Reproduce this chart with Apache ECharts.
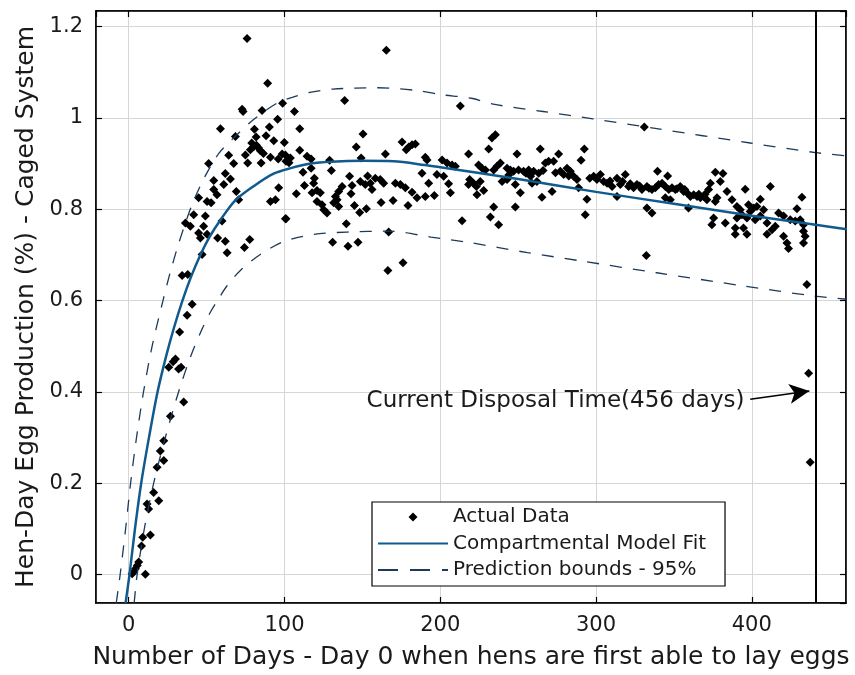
<!DOCTYPE html>
<html lang="en">
<head>
  <meta charset="UTF-8">
  <title>Hen-Day Egg Production - Caged System</title>
  <script src="https://cdn.jsdelivr.net/npm/echarts/dist/echarts.min.js"></script>
  <style>
    html, body { margin: 0; padding: 0; background: #fff; }
    #chart { width: 855px; height: 675px; }
  </style>
</head>
<body>
<div id="chart"></div>
<script>
  // observed production, [day, rate]
  const riseData = [
    [40.7,0.592],[37.5,0.568],[32.7,0.531],[30,0.472],[28.5,0.466],[32,0.45],[33.6,0.454],[25.7,0.454],
    [35.3,0.378],[26.8,0.347],[22.5,0.293],[20.3,0.271],[22.5,0.25],[18.2,0.235],[16,0.18],[19.3,0.162],
    [11.8,0.155],[12.8,0.144],[13.9,0.087],[9,0.082],[8.2,0.063],[6.4,0.028],[4.3,0.013],[2.2,0.002],
    [10.7,0.001],[3.2,0.006],[5.5,0.02]
  ];
  const peakData = [
    [76,1.174],[89.2,1.076],[72.8,1.019],[73.4,1.014],[85.6,1.016],[98.8,1.032],[95.6,0.997],[58.9,0.976],
    [80.7,0.975],[90.3,0.98],[68.5,0.959],[81.8,0.958],[88.2,0.961],[93.1,0.95],[99.9,0.946],[80.2,0.937],
    [83.4,0.934],[78.1,0.93],[64.2,0.918],[74.9,0.919],[91,0.914],[98.5,0.921],[67.4,0.9],[76.4,0.901],
    [85,0.901],[51.3,0.9],[62,0.878],[54.6,0.863],[65.3,0.866],[61,0.854],[54.6,0.843],[56.7,0.832],
    [69.1,0.839],[96.3,0.847],[44.9,0.825],[50.3,0.817],[52.9,0.814],[70.6,0.821],[91,0.817],[94.2,0.821],
    [41.7,0.788],[49.2,0.785],[36.4,0.77],[39.6,0.763],[48.1,0.763],[59.9,0.774],[101,0.779],[44.9,0.748],
    [46,0.737],[50.3,0.745],[57.1,0.737],[62,0.73],[77.7,0.734],[63.2,0.705],[74.3,0.716],[47.1,0.701],
    [34.3,0.655],[37.9,0.657],[79,0.945],[82,0.94],[84.5,0.928],[86.5,0.922],[96,0.91],[101,0.905]
  ];
  const midData = [
    [165.4,1.148],[138.6,1.038],[106.4,1.014],[212.9,1.026],[109.8,0.976],[150.4,0.965],[146.1,0.936],
    [175.5,0.947],[179.8,0.936],[181.9,0.941],[184,0.943],[178.2,0.93],[109.8,0.929],[100.6,0.919],
    [103.8,0.912],[102.9,0.902],[114.5,0.916],[117.1,0.91],[149.2,0.912],[164.8,0.921],[190.4,0.914],
    [191.5,0.908],[201.2,0.908],[204.4,0.901],[207.6,0.897],[209.7,0.894],[218.2,0.921],[129,0.907],
    [130.1,0.885],[111.9,0.881],[117.1,0.89],[119.2,0.868],[141.8,0.872],[153.4,0.873],[188.3,0.879],
    [192.6,0.857],[197.9,0.876],[202.2,0.872],[205.4,0.856],[206.5,0.836],[112.8,0.852],[118.7,0.857],
    [137,0.85],[134.8,0.839],[132.7,0.828],[143.4,0.852],[148.7,0.861],[151.9,0.854],[155.1,0.857],
    [158.3,0.868],[161.5,0.865],[163.7,0.857],[156.2,0.843],[171.2,0.857],[174.4,0.854],[177.6,0.847],
    [181.9,0.837],[185.1,0.825],[190.4,0.828],[196.2,0.83],[107.6,0.834],[117.7,0.836],[120.9,0.841],
    [123,0.836],[120.9,0.817],[124.1,0.81],[125.2,0.799],[127.3,0.792],[131.6,0.814],[133.8,0.821],
    [134.8,0.806],[142.7,0.834],[144.9,0.808],[148.3,0.793],[152.6,0.801],[162,0.815],[169.7,0.819],
    [179.3,0.808],[100.6,0.779],[139.7,0.768],[214,0.775],[130.9,0.728],[140.8,0.719],[147.2,0.728],
    [166.9,0.75],[166.4,0.666],[176.1,0.683]
  ];
  const plateauData = [
    [331,0.98],[233.2,0.956],[235.4,0.963],[231.1,0.932],[249.3,0.921],[264.2,0.932],[276,0.921],
    [292.5,0.932],[290.4,0.907],[238.6,0.901],[224.6,0.897],[226.8,0.89],[229,0.886],[234.3,0.886],
    [236.4,0.894],[242.9,0.89],[245,0.886],[247.1,0.883],[250.3,0.886],[253.5,0.883],[256.8,0.886],
    [260,0.883],[263.2,0.879],[267.5,0.901],[269.6,0.905],[272.8,0.905],[277.1,0.883],[279.2,0.876],
    [281.4,0.89],[283.5,0.883],[285.6,0.872],[287.8,0.865],[218.9,0.865],[221.4,0.857],[223.2,0.85],
    [225.7,0.861],[218.2,0.854],[223.6,0.832],[227.9,0.841],[239.7,0.861],[242.9,0.865],[248.2,0.854],
    [251.4,0.836],[258.9,0.857],[262.1,0.861],[265.3,0.826],[271.8,0.839],[298.5,0.872],[300.6,0.865],
    [302.8,0.876],[304.9,0.861],[307.1,0.857],[310.3,0.85],[313.5,0.868],[315.6,0.854],[318.8,0.876],
    [320.9,0.85],[324.1,0.847],[326.3,0.854],[329.5,0.843],[332.7,0.85],[339.5,0.883],[288.8,0.847],
    [294.2,0.822],[293.1,0.788],[234.3,0.805],[248.2,0.805],[232.2,0.783],[237.5,0.766],[332.7,0.803],
    [335.9,0.792],[313.5,0.828],[332.3,0.699],[244,0.875],[255,0.879],[258,0.872],[266,0.885],[274,0.88],
    [282.5,0.873],[296,0.868],[309,0.862],[317,0.861],[322,0.856],[328,0.851],[334,0.846]
  ];
  const lateData = [
    [346,0.873],[335.9,0.843],[338.1,0.847],[340.2,0.854],[342.4,0.857],[344.5,0.85],[346.7,0.843],
    [348.8,0.847],[350.9,0.843],[354.1,0.85],[356.3,0.839],[358.4,0.836],[360.6,0.828],[362.7,0.832],
    [364.9,0.828],[367,0.825],[369.2,0.828],[371.2,0.821],[344.5,0.825],[347.7,0.821],[359.4,0.803],
    [376.6,0.881],[381.5,0.878],[379.8,0.861],[373.4,0.857],[372.3,0.843],[384.1,0.839],[377.7,0.825],
    [376.6,0.817],[387.3,0.821],[390.5,0.806],[392.6,0.799],[395.8,0.844],[411.9,0.85],[405.5,0.822],
    [432.2,0.826],[429,0.801],[397.9,0.81],[401.2,0.803],[403.3,0.806],[407.6,0.799],[399,0.795],
    [375.5,0.781],[374.4,0.766],[383,0.77],[390.5,0.781],[393.7,0.788],[396.9,0.781],[389.4,0.759],
    [394.7,0.759],[396.9,0.745],[389.4,0.745],[402.2,0.777],[405.5,0.785],[409.8,0.77],[409.8,0.745],
    [413,0.755],[415.1,0.763],[417.2,0.792],[420.4,0.785],[424.7,0.777],[427.9,0.774],[431.1,0.777],
    [433.2,0.766],[420.4,0.741],[422.6,0.726],[423.6,0.714],[433.2,0.752],[434.3,0.741],[433.2,0.726],
    [435.4,0.635],[436.5,0.441],[437.5,0.246],[352,0.845],[357,0.843],[366,0.833],[370,0.833]
  ];

  // model fit and 95% bounds, [day, rate]
  const fitCurve = [
    [-2,-0.062],[0.5,0],[4,0.1],[8,0.2],[13,0.3],[18.5,0.4],[24,0.478],[29,0.54],[34.5,0.6],[40,0.652],
    [46,0.7],[52,0.74],[59,0.777],[68,0.818],[80,0.85],[93,0.878],[104,0.89],[117,0.9],[130,0.904],
    [150,0.906],[170,0.905],[190,0.897],[200,0.892],[250,0.866],[300,0.838],[350,0.812],[400,0.786],
    [441,0.766],[461,0.756]
  ];
  const upperBound = [
    [-8,-0.062],[-5.5,0],[-2,0.1],[1.2,0.2],[5,0.3],[9.5,0.4],[15,0.5],[22,0.6],[26.5,0.66],[31,0.713],
    [36,0.766],[41.5,0.817],[49,0.872],[58,0.923],[69.5,0.963],[80,0.996],[95,1.032],[105,1.045],
    [115,1.055],[131,1.063],[160,1.066],[185,1.06],[200,1.051],[220,1.043],[234,1.03],[266,1.014],
    [298,0.998],[338,0.977],[399,0.945],[441,0.924],[461,0.917]
  ];
  const lowerBound = [
    [3.5,-0.062],[5.4,0],[10,0.1],[16,0.2],[23.5,0.3],[32,0.4],[40,0.48],[47,0.537],[52.5,0.575],
    [57,0.6],[63,0.632],[72,0.667],[84,0.7],[100,0.73],[119,0.745],[140,0.75],[168,0.752],[194,0.739],
    [219,0.727],[256,0.705],[292,0.686],[339,0.661],[395,0.632],[440,0.61],[461,0.603]
  ];

  const disposalDay = 441;
  const noteAnchor = [396, 0.38];
  const arrowFrom = [399, 0.384];
  const arrowTo = [437, 0.402];

  const actualData = riseData.concat(peakData, midData, plateauData, lateData);

  const FONT = 'DejaVu Sans';
  const TXT = '#1a1a1a';
  const fitColor = '#105a8e';
  const boundColor = '#1d3a58';
  const boundDash = [12, 11];
  // small diamond centred in a 70x9 legend slot
  const diamondIcon = 'path://M0,4.5L0.01,4.5Z M30.5,4.5L35,0L39.5,4.5L35,9Z M69.99,4.5L70,4.5Z';

  const chart = echarts.init(document.getElementById('chart'));

  const commonX = { type: 'value', min: -21, max: 460.5, splitNumber: 5 };
  const commonY = { type: 'value', min: -0.062, max: 1.234, splitNumber: 6 };
  const frameLine = { show: true, onZero: false, lineStyle: { color: '#000', width: 1.5 } };
  const innerTick = { show: true, inside: true, length: 6, lineStyle: { color: '#000', width: 1.2 } };

  chart.setOption({
    animation: false,
    backgroundColor: '#fff',
    textStyle: { fontFamily: FONT },
    grid: {
      left: 96, right: 9, top: 11, bottom: 71,
      show: true, borderColor: '#000', borderWidth: 1.5, backgroundColor: 'transparent'
    },
    xAxis: [
      Object.assign({}, commonX, {
        position: 'bottom',
        name: 'Number of Days - Day 0 when hens are first able to lay eggs',
        nameLocation: 'middle', nameGap: 42,
        nameTextStyle: { fontSize: 25, color: TXT, fontFamily: FONT },
        axisLine: frameLine,
        axisTick: innerTick,
        axisLabel: { fontSize: 21, color: TXT, margin: 12, showMinLabel: false, showMaxLabel: false },
        splitLine: { show: true, lineStyle: { color: '#d6d6d6', width: 1 } }
      }),
      Object.assign({}, commonX, {
        position: 'top',
        axisLine: frameLine,
        axisTick: innerTick,
        axisLabel: { show: false },
        splitLine: { show: false }
      })
    ],
    yAxis: [
      Object.assign({}, commonY, {
        position: 'left',
        name: 'Hen-Day Egg Production (%) - Caged System',
        nameLocation: 'middle', nameGap: 55, nameRotate: 90,
        nameTextStyle: { fontSize: 25, color: TXT, fontFamily: FONT },
        axisLine: frameLine,
        axisTick: innerTick,
        axisLabel: { fontSize: 21, color: TXT, margin: 13, showMinLabel: false, showMaxLabel: false },
        splitLine: { show: true, lineStyle: { color: '#d6d6d6', width: 1 } }
      }),
      Object.assign({}, commonY, {
        position: 'right',
        axisLine: frameLine,
        axisTick: innerTick,
        axisLabel: { show: false },
        splitLine: { show: false }
      })
    ],
    legend: {
      data: [
        { name: 'Actual Data', icon: diamondIcon },
        { name: 'Compartmental Model Fit', itemStyle: { opacity: 0 } },
        { name: 'Prediction bounds - 95%', itemStyle: { opacity: 0 }, lineStyle: { type: [20, 12] } }
      ],
      orient: 'vertical',
      left: 372, top: 502,
      padding: [5, 19, 6, 5],
      itemWidth: 70, itemHeight: 9, itemGap: 6.5,
      borderColor: '#000', borderWidth: 1.2,
      backgroundColor: '#fff',
      textStyle: { fontSize: 20, color: TXT, fontFamily: FONT, lineHeight: 20 }
    },
    series: [
      {
        name: 'Actual Data',
        type: 'scatter',
        data: actualData,
        symbol: 'diamond',
        symbolSize: 9,
        itemStyle: { color: '#000', opacity: 1 },
        z: 3
      },
      {
        name: 'Prediction bounds - 95%',
        type: 'line',
        data: upperBound,
        showSymbol: false, symbol: 'none', smooth: 0.3,
        lineStyle: { color: boundColor, width: 1.3, type: boundDash },
        itemStyle: { color: boundColor },
        z: 4
      },
      {
        name: 'Prediction bounds - 95%',
        type: 'line',
        data: lowerBound,
        showSymbol: false, symbol: 'none', smooth: 0.3,
        lineStyle: { color: boundColor, width: 1.3, type: boundDash },
        itemStyle: { color: boundColor },
        z: 4
      },
      {
        name: 'Compartmental Model Fit',
        type: 'line',
        data: fitCurve,
        showSymbol: false, symbol: 'none', smooth: 0.3,
        lineStyle: { color: fitColor, width: 2.5 },
        itemStyle: { color: fitColor },
        z: 5,
        markLine: {
          silent: true, symbol: 'none', animation: false,
          label: { show: false },
          lineStyle: { color: '#000', width: 2, type: 'solid' },
          data: [{ xAxis: disposalDay }]
        }
      },
      {
        name: 'note',
        type: 'scatter',
        data: [noteAnchor],
        symbolSize: 0,
        silent: true,
        itemStyle: { opacity: 1 },
        label: {
          show: true, position: 'left', distance: 1,
          formatter: 'Current Disposal Time(456 days)',
          fontSize: 23, color: TXT, fontFamily: FONT
        },
        markLine: {
          silent: true, animation: false,
          symbol: ['none', 'arrow'], symbolSize: [15, 20],
          label: { show: false },
          lineStyle: { color: '#000', width: 1.5, type: 'solid' },
          data: [[{ coord: arrowFrom }, { coord: arrowTo }]]
        },
        z: 6
      }
    ]
  });
</script>
</body>
</html>
